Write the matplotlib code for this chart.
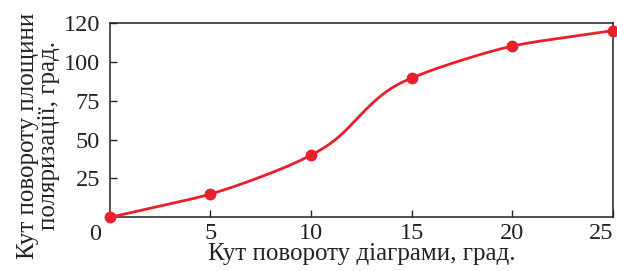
import numpy as np
import matplotlib
matplotlib.use("Agg")
import matplotlib.pyplot as plt
from matplotlib.transforms import offset_copy

# Data points (markers)
x_pts = [0, 5, 10, 15, 20, 25]
y_pts = [0, 15, 40, 89.5, 110, 120]

# Curve (line between markers)
curve_x = [0, 2.5, 5, 7.5, 10, 11.4, 12.7, 14.0, 15, 17.5, 20, 22.5, 25]
curve_y = [0, 7.2, 15, 26, 40, 52, 69, 83, 89.5, 101, 110, 115.3, 120]

x_ticks = [5, 10, 15, 20, 25]
x_ticklabels = ["5", "10", "15", "20", "25"]
y_ticks = [25, 50, 75, 100, 125]
y_ticklabels = ["25", "50", "75", "100", "120"]

xlabel = "Кут повороту діаграми, град."
ylabel = "Кут повороту площини\nполяризації, град."

RED = "#e8202a"
INK = "#222222"

def natural_spline(x, y, xs):
    x = np.asarray(x, float); y = np.asarray(y, float)
    n = len(x); h = np.diff(x)
    A = np.zeros((n, n)); b = np.zeros(n)
    A[0, 0] = A[-1, -1] = 1
    for i in range(1, n - 1):
        A[i, i - 1] = h[i - 1]; A[i, i] = 2 * (h[i - 1] + h[i]); A[i, i + 1] = h[i]
        b[i] = 6 * ((y[i + 1] - y[i]) / h[i] - (y[i] - y[i - 1]) / h[i - 1])
    M = np.linalg.solve(A, b)
    idx = np.clip(np.searchsorted(x, xs) - 1, 0, n - 2)
    hi = h[idx]; t1 = x[idx + 1] - xs; t0 = xs - x[idx]
    return (M[idx] * t1**3 / (6 * hi) + M[idx + 1] * t0**3 / (6 * hi)
            + (y[idx] / hi - M[idx] * hi / 6) * t1 + (y[idx + 1] / hi - M[idx + 1] * hi / 6) * t0)

plt.rcParams['font.family'] = ['Liberation Serif', 'DejaVu Serif']

fig = plt.figure(figsize=(6.17, 2.71), dpi=100)
ax = fig.add_axes([0.178, 0.198, 0.8155, 0.718])

xs = np.linspace(curve_x[0], curve_x[-1], 500)
ax.plot(xs, natural_spline(curve_x, curve_y, xs), color=RED, lw=2.0, clip_on=False, zorder=3)
ax.plot(x_pts, y_pts, 'o', color=RED, ms=7.5, clip_on=False, zorder=4)

ax.set_xlim(0, 25)
ax.set_ylim(0, 125)
ax.set_xticks(x_ticks)
ax.set_xticklabels(x_ticklabels)
ax.set_yticks(y_ticks)
ax.set_yticklabels(y_ticklabels)
ax.tick_params(direction='in', length=5, width=1.0, color=INK,
               labelsize=17.5, top=False, right=False, labelcolor=INK)
ax.tick_params(axis='y', pad=7)
ax.tick_params(axis='x', pad=4)
ax.get_xticklabels()[-1].set_horizontalalignment('right')
for s in ax.spines.values():
    s.set_linewidth(1.1)
    s.set_color(INK)

# shared "0" at the corner
ax.text(0, 0, "0", transform=offset_copy(ax.transAxes, fig=fig, x=-15, y=-17, units='dots'),
        ha='center', va='center', fontsize=17.5, color=INK)

ax.set_xlabel(xlabel, fontsize=18, color=INK, labelpad=-1)
fig.text(0.062, 0.5, ylabel, rotation=90, ha='center', va='center', fontsize=18,
         color=INK, linespacing=0.95, multialignment='center')

fig.savefig("out.png", dpi=100)
